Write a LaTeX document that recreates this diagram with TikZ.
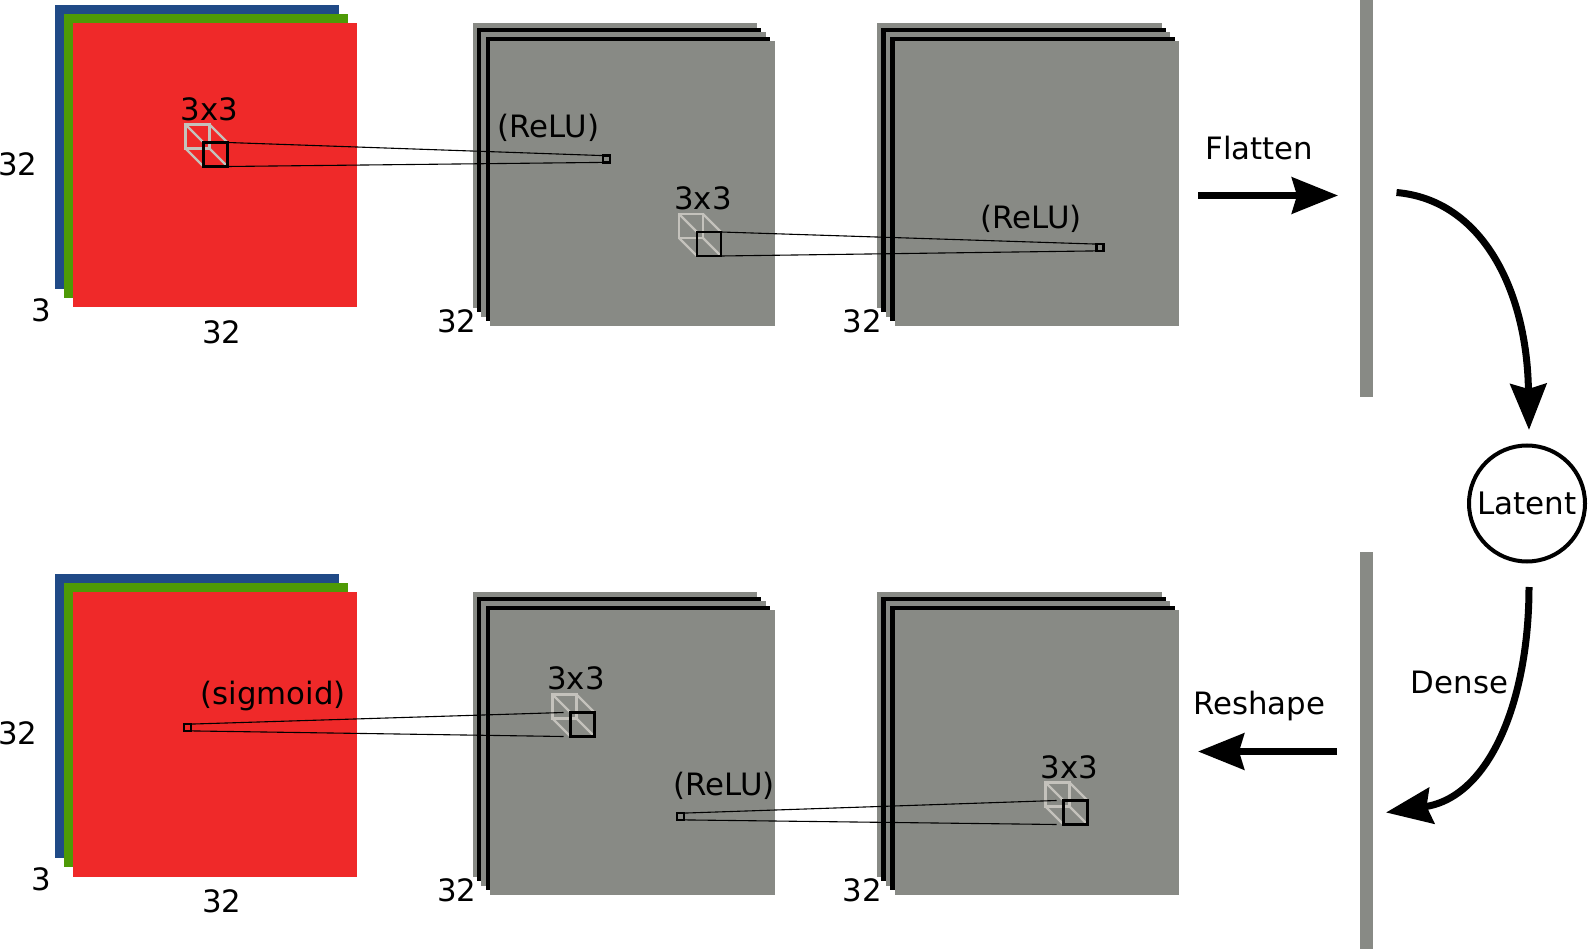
\documentclass[tikz,border=0pt]{standalone}
\usepackage{fontspec}
\setmainfont{DejaVu Sans}
\usetikzlibrary{arrows.meta}
\definecolor{sheetgrey}{HTML}{888A85}
\definecolor{sheetred}{HTML}{EF2929}
\definecolor{sheetgreen}{HTML}{4E9A06}
\definecolor{sheetblue}{HTML}{204A87}
\definecolor{cubegrey}{HTML}{C4C2BC}
\tikzset{
  sheet/.style={rectangle,anchor=north west,inner sep=0pt,outer sep=0pt,minimum size=284.5pt},
  rgbsheet/.style={sheet,minimum size=284.3pt},
  bar/.style={rectangle,fill=sheetgrey,inner sep=0pt,outer sep=0pt,minimum width=12.6pt,minimum height=398pt},
  txt/.style={inner sep=0pt,outer sep=0pt,font=\fontsize{30.8}{35}\selectfont},
  cubeback/.style={rectangle,draw=cubegrey,line width=2.3pt,inner sep=0pt,outer sep=0pt,minimum size=24pt},
  cubefront/.style={rectangle,draw=black,line width=2.5pt,inner sep=0pt,outer sep=0pt,minimum size=24pt},
  cubeedge/.style={draw=cubegrey,line width=2.3pt},
  pixel/.style={rectangle,draw=black,line width=2.3pt,inner sep=0pt,outer sep=0pt,minimum size=6.8pt},
  ray/.style={draw=black,line width=1.1pt},
  flow/.style={draw=black,line width=7pt,-{Stealth[length=46pt,width=36pt,inset=5pt]}},
  latent/.style={circle,draw=black,line width=4pt,inner sep=0pt,outer sep=0pt,minimum size=116pt,font=\fontsize{31}{35}\selectfont}
}
\begin{document}
\begin{tikzpicture}[x=1pt,y=-1pt]
  \useasboundingbox (0,0) rectangle (1588,949);
  % input and output images
  \foreach \s/\sy in {p/5,q/574} {
    \node[rgbsheet,fill=sheetblue] (\s b) at (54.7,\sy) {};
    \node[rgbsheet,fill=sheetgreen] (\s g) at (63.8,\sy+9.1) {};
    \node[rgbsheet,fill=sheetred] (\s r) at (72.9,\sy+18.2) {};
  }
  % feature maps
  \foreach \s/\sx/\sy in {a/472.5/23.3,b/877/23.3,c/472.5/592.3,d/877/592.3} {
    \foreach \k/\col in {0/sheetgrey,1/black,2/sheetgrey,3/black,4/sheetgrey} {
      \node[sheet,fill=\col] (\s\k) at (\sx+\k*4.45,\sy+\k*4.45) {};
    }
  }
  % dense layers
  \node[bar,anchor=north] (bar1) at (1366.2,-1) {};
  \node[bar,anchor=south] (bar2) at (1366.2,950) {};
  % kernels
  \foreach \k/\kx/\ky in {k1/215.5/154.5,k2/709/244,k3/582.5/724.5,k4/1075.5/812.5} {
    \node[cubeback] (\k b) at (\kx-18,\ky-18) {};
    \draw[cubeedge] (\k b.north west) -- ++(18,18);
    \draw[cubeedge] (\k b.north east) -- ++(18,18);
    \draw[cubeedge] (\k b.south west) -- ++(18,18);
    \draw[cubeedge] (\k b.south east) -- ++(18,18);
    \node[cubefront] (\k) at (\kx,\ky) {};
  }
  \node[pixel] (s1) at (606.5,159) {};
  \node[pixel] (s2) at (1100,247.5) {};
  \node[pixel] (s3) at (187.3,727.5) {};
  \node[pixel] (s4) at (680.5,816.5) {};
  \draw[ray] (k1.north east) -- (s1.north west);
  \draw[ray] (k1.south east) -- (s1.south west);
  \draw[ray] (k2.north east) -- (s2.north west);
  \draw[ray] (k2.south east) -- (s2.south west);
  \draw[ray] (s3.north east) -- ([xshift=-7pt]k3.north west);
  \draw[ray] (s3.south east) -- ([xshift=-7pt]k3.south west);
  \draw[ray] (s4.north east) -- ([xshift=-7pt]k4.north west);
  \draw[ray] (s4.south east) -- ([xshift=-7pt]k4.south west);
  % labels
  \node[txt] (t1) at (209.6,108.9) {3x3};
  \node[txt] (t2) at (548.5,127.5) {(ReLU)};
  \node[txt] (t3) at (703,198) {3x3};
  \node[txt] (t4) at (1031,219) {(ReLU)};
  \node[txt] (t5) at (273,696) {(sigmoid)};
  \node[txt] (t6) at (576,678) {3x3};
  \node[txt] (t7) at (724,786) {(ReLU)};
  \node[txt] (t8) at (1069.5,767) {3x3};
  \foreach \d/\dy in {u/0,v/569} {
    \node[txt] (\d1) at (18,164+\dy) {32};
    \node[txt] (\d2) at (41.5,310+\dy) {3};
    \node[txt] (\d3) at (222,332.5+\dy) {32};
    \node[txt] (\d4) at (457,321.5+\dy) {32};
    \node[txt] (\d5) at (862,321.5+\dy) {32};
  }
  \node[txt] (flat) at (1259.5,148) {Flatten};
  \node[txt] (resh) at (1259,706) {Reshape};
  \node[txt] (dens) at (1459.5,682) {Dense};
  \node[latent] (lat) at (1527,503.5) {Latent};
  % arrows
  \coordinate (fa) at (1198,195.5);
  \coordinate (fb) at (1338,195.5);
  \coordinate (ra) at (1337,751.5);
  \coordinate (rb) at (1198,751.5);
  \coordinate (la) at (1396.5,192.5);
  \coordinate (lb) at (1529,587);
  \coordinate (db) at (1386,812.5);
  \draw[flow] (fa) -- (fb);
  \draw[flow] (ra) -- (rb);
  \draw[flow] (la) .. controls (1482,200) and (1527,290) .. ([xshift=2pt,yshift=15.5pt]lat.north);
  \draw[flow] (lb) .. controls (1529,700) and (1490,797) .. (db);
\end{tikzpicture}
\end{document}
